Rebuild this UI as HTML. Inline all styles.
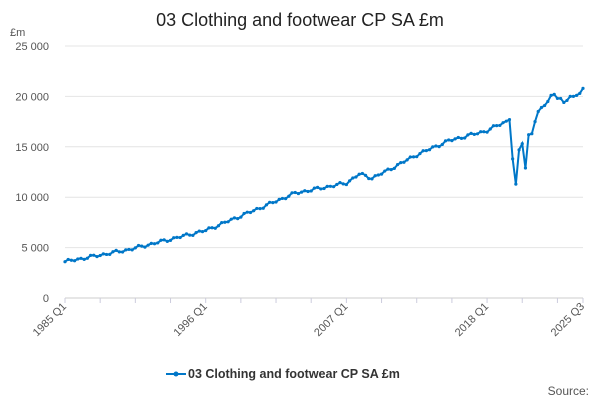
<!DOCTYPE html>
<html><head><meta charset="utf-8"><style>
body{margin:0;background:#fff;font-family:"Liberation Sans",sans-serif}
svg text{font-family:"Liberation Sans",sans-serif}
</style></head><body>
<svg id="s" width="600" height="400" xmlns="http://www.w3.org/2000/svg">
<rect width="600" height="400" fill="#fff"/>
<text x="300" y="26" text-anchor="middle" font-size="18" fill="#222">03 Clothing and footwear CP SA £m</text>
<text x="10" y="36" font-size="11" fill="#555">£m</text>
<g id="grid"></g>
<g id="series"></g>
<line x1="166" y1="374" x2="186" y2="374" stroke="#0077c8" stroke-width="2"/>
<circle cx="176" cy="374" r="2.5" fill="#0077c8"/>
<text x="188" y="378" font-size="12.5" font-weight="bold" fill="#333">03 Clothing and footwear CP SA £m</text>
<text x="589" y="395" text-anchor="end" font-size="12" fill="#555">Source:</text>
</svg>
<script>
const x0=65,dx=518/162,y0=298,py=252/25000;
const Y=v=>y0-v*py,X=i=>x0+i*dx;
let g='';
for(let k=0;k<=5;k++){let y=Y(k*5000);
 g+=`<line x1="${x0}" x2="583" y1="${y}" y2="${y}" stroke="${k==0?'#ccc':'#e4e4e4'}"/>`;
 g+=`<text x="49" y="${y+4}" text-anchor="end" font-size="11" fill="#555">${k==0?'0':(k*5)+' 000'}</text>`;}
for(let i=0;i<=162;i+=11){g+=`<line x1="${X(i)}" x2="${X(i)}" y1="298" y2="303" stroke="#ccd"/>`}
g+=`<line x1="583" x2="583" y1="298" y2="303" stroke="#ccd"/>`;
[[0,'1985 Q1'],[44,'1996 Q1'],[88,'2007 Q1'],[132,'2018 Q1'],[162,'2025 Q3']].forEach(([i,t])=>{
 g+=`<text transform="translate(${X(i)+2},307) rotate(-45)" text-anchor="end" font-size="11" fill="#555">${t}</text>`});
document.getElementById('grid').innerHTML=g;
const K=[[0,3600],[20,4800],[44,6700],[60,8800],[72,10400],[88,11400],[92,12300],[96,11900],[100,12500],[110,14200],[120,15600],[132,16600],[139,17700],[140,13800],[141,11300],[142,14700],[143,15300],[144,12900],[145,16200],[146,16300],[147,17500],[148,18500],[149,18900],[150,19100],[151,19500],[152,20100],[153,20200],[154,19800],[155,19800],[156,19400],[157,19600],[158,20000],[159,20000],[160,20100],[161,20300],[162,20800]];
let pts=[];
for(let i=0;i<=162;i++){let v;
 for(let j=0;j<K.length-1;j++){if(i>=K[j][0]&&i<=K[j+1][0]){let a=K[j],b=K[j+1];v=a[1]+(b[1]-a[1])*(i-a[0])/(b[0]-a[0]||1);
  if(i<138&&i!=a[0])v+=120*Math.sin(i*1.7)+60*Math.sin(i*0.9);break;}}
 pts.push([X(i),Y(v)]);}
let s=`<polyline fill="none" stroke="#0077c8" stroke-width="2" points="${pts.map(p=>p.join(',')).join(' ')}"/>`;
pts.forEach(p=>s+=`<circle cx="${p[0]}" cy="${p[1]}" r="1.6" fill="#0077c8"/>`);
document.getElementById('series').innerHTML=s;
</script>
</body></html>
